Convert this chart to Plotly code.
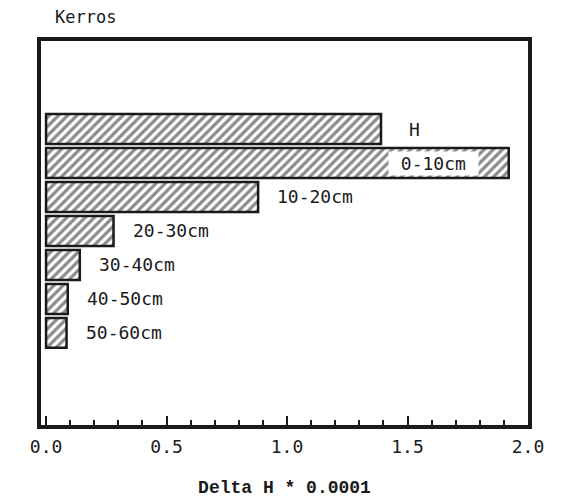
import plotly.graph_objects as go

# Layer depth classes and their Delta H values (x 0.0001)
layers = ["H", "0-10cm", "10-20cm", "20-30cm", "30-40cm", "40-50cm", "50-60cm"]
delta_h = [1.39, 1.92, 0.88, 0.28, 0.14, 0.09, 0.085]

x_ticks = [0.0, 0.5, 1.0, 1.5, 2.0]
x_tick_text = ["0.0", "0.5", "1.0", "1.5", "2.0"]

ink = "#1a1a1a"
mono = "DejaVu Sans Mono"

fig = go.Figure()
fig.add_trace(go.Bar(
    x=delta_h,
    y=layers,
    orientation="h",
    marker=dict(
        color="white",
        line=dict(color=ink, width=2.5),
        pattern=dict(shape="/", fgcolor=ink, bgcolor="white", size=6.5, solidity=0.5),
    ),
    showlegend=False,
    hoverinfo="skip",
))

# depth labels beside the bars; the widest bar carries its label inside a cleared box
label_shift = {"H": 26}
for name, val in zip(layers, delta_h):
    if name == "0-10cm":
        fig.add_annotation(
            x=val, y=name, xref="x", yref="y",
            text=" " + name + " ", showarrow=False,
            xanchor="right", xshift=-30,
            bgcolor="white", borderpad=1,
            font=dict(family=mono, size=18, color=ink),
        )
    else:
        fig.add_annotation(
            x=val, y=name, xref="x", yref="y",
            text=name, showarrow=False,
            xanchor="left", xshift=label_shift.get(name, 17),
            font=dict(family=mono, size=18, color=ink),
        )

fig.add_annotation(
    x=0, y=1, xref="paper", yref="paper",
    text="Kerros", showarrow=False,
    xanchor="left", yanchor="middle", xshift=12, yshift=24,
    font=dict(family=mono, size=17, color=ink),
)

fig.update_layout(
    width=567, height=498,
    margin=dict(l=41, r=39, t=41, b=73),
    paper_bgcolor="white", plot_bgcolor="white",
    bargap=0.12,
    xaxis=dict(
        range=[-0.021, 2.0],
        tickvals=x_ticks, ticktext=x_tick_text,
        ticks="inside", ticklen=9, tickwidth=2, tickcolor=ink,
        minor=dict(dtick=0.1, ticks="inside", ticklen=5, tickwidth=1.5, tickcolor=ink),
        showgrid=False, zeroline=False,
        showline=True, linewidth=3.5, linecolor=ink, mirror=True,
        ticklabelstandoff=3,
        automargin=False,
        tickfont=dict(family=mono, size=18, color=ink),
        title=dict(text="Delta H * 0.0001", standoff=28,
                   font=dict(family="Liberation Mono", size=18, color=ink, weight="bold")),
    ),
    yaxis=dict(
        type="category",
        categoryorder="array", categoryarray=layers,
        range=[8.71, -2.59],
        showticklabels=False, ticks="",
        showgrid=False, zeroline=False,
        showline=True, linewidth=3.5, linecolor=ink, mirror=True,
        automargin=False,
    ),
)

fig.write_html("out.html")
